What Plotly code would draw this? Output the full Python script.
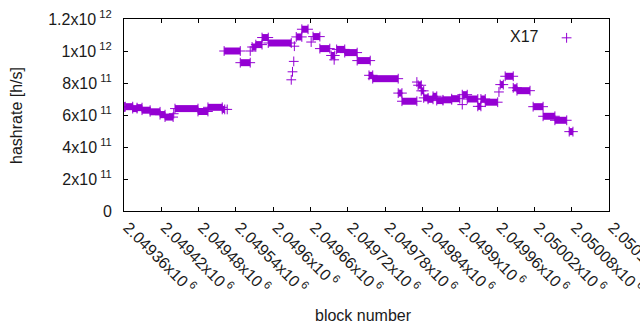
import plotly.graph_objects as go

# ---- data (block number ranges with constant hashrate, h/s) ----
seg_start = [2049362, 2049374, 2049381, 2049389, 2049402, 2049418, 2049426, 2049442,
             2049479, 2049495, 2049518, 2049521, 2049547, 2049566, 2049572, 2049582,
             2049592, 2049637, 2049646, 2049664, 2049675, 2049693, 2049702, 2049715,
             2049735, 2049754, 2049760, 2049801, 2049807, 2049833, 2049838, 2049842,
             2049849, 2049857, 2049863, 2049873, 2049887, 2049904, 2049912, 2049929,
             2049934, 2049941, 2049965, 2049973, 2049986, 2049992, 2050018, 2050034,
             2050053, 2050076]
seg_end = [2049374, 2049381, 2049389, 2049402, 2049418, 2049426, 2049439, 2049479,
           2049495, 2049518, 2049522, 2049547, 2049563, 2049572, 2049582, 2049592,
           2049629, 2049646, 2049656, 2049675, 2049691, 2049699, 2049715, 2049735,
           2049756, 2049760, 2049801, 2049807, 2049831, 2049838, 2049842, 2049849,
           2049857, 2049863, 2049873, 2049887, 2049900, 2049912, 2049929, 2049934,
           2049941, 2049961, 2049970, 2049986, 2049992, 2050013, 2050034, 2050053,
           2050072, 2050082]
seg_value = [6.52e11, 6.40e11, 6.46e11, 6.30e11, 6.20e11, 6.02e11, 5.87e11, 6.40e11,
             6.22e11, 6.48e11, 6.35e11, 1.00e12, 9.27e11, 1.025e12, 1.04e12, 1.084e12,
             1.05e12, 1.088e12, 1.136e12, 1.09e12, 1.015e12, 9.72e11, 1.01e12, 9.90e11,
             9.40e11, 8.48e11, 8.27e11, 7.37e11, 6.86e11, 7.86e11, 7.51e11, 7.07e11,
             6.98e11, 7.17e11, 6.90e11, 6.95e11, 7.02e11, 7.27e11, 7.00e11, 6.54e11,
             7.00e11, 6.80e11, 7.90e11, 8.42e11, 7.70e11, 7.52e11, 6.52e11, 5.92e11,
             5.67e11, 4.96e11]

single_block = [2049361, 2049440, 2049526, 2049563, 2049629, 2049631, 2049633, 2049634,
                2049661, 2049698, 2049831, 2049904, 2049963]
single_value = [6.50e11, 6.08e11, 6.35e11, 1.00e12, 8.20e11, 8.70e11, 9.35e11, 1.03e12,
                1.056e12, 9.45e11, 8.06e11, 6.65e11, 7.44e11]

x_tick_values = [2049360, 2049420, 2049480, 2049540, 2049600, 2049660, 2049720,
                 2049780, 2049840, 2049900, 2049960, 2050020, 2050080, 2050140]
x_tick_mantissa = ["2.04936", "2.04942", "2.04948", "2.04954", "2.0496", "2.04966",
                   "2.04972", "2.04978", "2.04984", "2.0499", "2.04996", "2.05002",
                   "2.05008", "2.05014"]
y_tick_values = [0, 2e11, 4e11, 6e11, 8e11, 1e12, 1.2e12]
y_tick_labels = ["0", "2x10<sup> 11</sup>", "4x10<sup> 11</sup>", "6x10<sup> 11</sup>",
                 "8x10<sup> 11</sup>", "1x10<sup> 12</sup>", "1.2x10<sup> 12</sup>"]

COLOR = "#9400D3"
FONT = "Liberation Sans"

seg_x, seg_y = [], []
for s, e, v in zip(seg_start, seg_end, seg_value):
    seg_x += [s, e, None]
    seg_y += [v, v, None]

fig = go.Figure()
fig.add_trace(go.Scatter(
    x=seg_x, y=seg_y, mode="lines+markers", showlegend=False,
    line=dict(color=COLOR, width=7),
    marker=dict(symbol="cross-thin", size=7, color=COLOR, line=dict(color=COLOR, width=1)),
    hoverinfo="skip"))
fig.add_trace(go.Scatter(
    x=single_block, y=single_value, mode="markers", name="", showlegend=True,
    marker=dict(symbol="cross-thin", size=7, color=COLOR, line=dict(color=COLOR, width=1))))

axis_common = dict(showline=True, linecolor="black", linewidth=1, mirror="allticks",
                   ticks="inside", ticklen=4, tickcolor="black", showgrid=False,
                   zeroline=False, automargin=False,
                   tickfont=dict(family=FONT, size=16, color="#1a1a1a"))

fig.update_layout(
    width=640, height=330, autosize=False,
    margin=dict(l=124, r=31, t=19, b=119),
    paper_bgcolor="white", plot_bgcolor="white",
    font=dict(family=FONT, size=16, color="#1a1a1a"),
    xaxis=dict(range=[2049360, 2050140], tickvals=x_tick_values,
               ticktext=[m + "x10<sup> 6</sup>" for m in x_tick_mantissa],
               tickangle=45, ticklabeloverflow="allow", ticklabelshift=4,
               **axis_common),
    yaxis=dict(range=[0, 1.2e12], tickvals=y_tick_values, ticktext=y_tick_labels,
               ticklabelstandoff=8, **axis_common),
    legend=dict(x=0.965, xanchor="right", y=0.99, yanchor="top",
                bgcolor="rgba(0,0,0,0)", borderwidth=0,
                title=dict(text="X17", side="left", font=dict(family=FONT, size=16)),
                font=dict(family=FONT, size=16)),
    annotations=[
        dict(text="hashrate [h/s]", xref="paper", yref="paper", x=-0.2227, y=0.5,
             textangle=-90, showarrow=False, xanchor="center", yanchor="middle",
             font=dict(family=FONT, size=16, color="#1a1a1a")),
        dict(text="block number", xref="paper", yref="paper", x=0.4948, y=-0.5417,
             showarrow=False, xanchor="center", yanchor="middle",
             font=dict(family=FONT, size=16, color="#1a1a1a")),
    ],
)

fig.write_html("out.html", config={"displayModeBar": False},
               post_script="document.body.style.margin='0';document.body.style.padding='0';")
